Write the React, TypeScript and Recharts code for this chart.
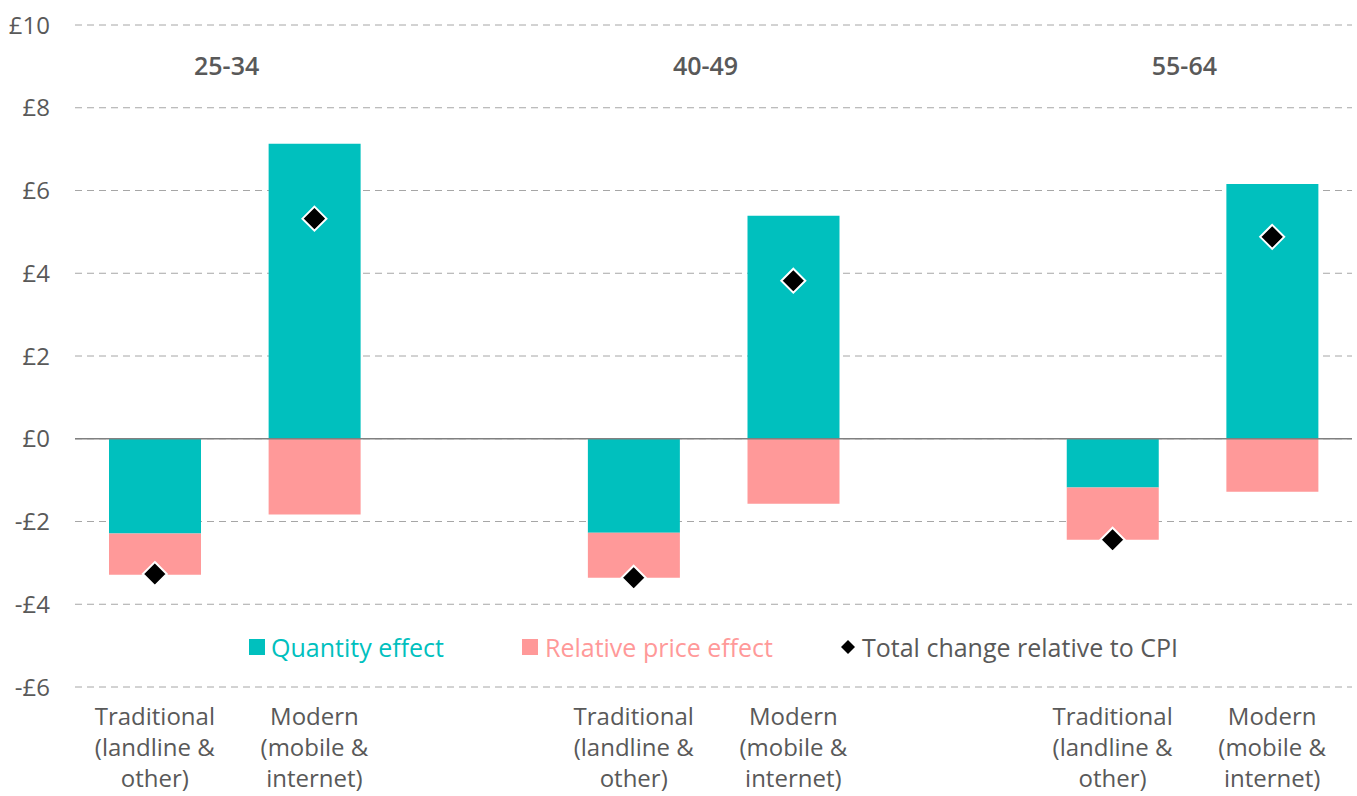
import React from 'react';
import {
  ComposedChart,
  Bar,
  Scatter,
  XAxis,
  YAxis,
  CartesianGrid,
  ReferenceLine,
  ReferenceArea,
  Legend,
} from 'recharts';

// categories: t = traditional, m = modern, g = empty gap slot between age groups
const categories = ['t1', 'm1', 'g1', 't2', 'm2', 'g2', 't3', 'm3'];
const quantityEffect = [-2.29, 7.13, null, -2.27, 5.39, null, -1.18, 6.16];
const priceEffect = [-1.0, -1.83, null, -1.09, -1.57, null, -1.26, -1.28];
const totalChange = [-3.27, 5.32, null, -3.36, 3.82, null, -2.44, 4.88];

const ageGroups = ['25-34', '40-49', '55-64'];
const groupStart = ['t1', 't2', 't3'];
const groupEnd = ['m1', 'm2', 'm3'];

const tickLabels: Record<string, string[]> = {
  t: ['Traditional', '(landline &', 'other)'],
  m: ['Modern', '(mobile &', 'internet)'],
};
const yTicks = [-6, -4, -2, 0, 2, 4, 6, 8, 10];

const TEAL = '#00C0BE';
const PINK = '#FF9999';
const TEXT = '#595959';
const FONT = '"Open Sans", "Noto Sans", sans-serif';

const data = categories.map((c, i) => ({
  cat: c,
  quantity: quantityEffect[i],
  price: priceEffect[i],
  total: totalChange[i],
}));

const fmtPound = (v: number) => (v < 0 ? `-£${-v}` : `£${v}`);

function CategoryTick(props: any) {
  const { x, y, payload } = props;
  const lines = tickLabels[String(payload.value)[0]];
  if (!lines) return null;
  return (
    <text x={x} y={y} textAnchor="middle" fill={TEXT} fontSize={24} fontFamily={FONT}>
      {lines.map((l, i) => (
        <tspan key={i} x={x} dy={i === 0 ? 38 : 31}>
          {l}
        </tspan>
      ))}
    </text>
  );
}

function Diamond(props: any) {
  const { cx, cy, payload } = props;
  if (payload == null || payload.total == null || !Number.isFinite(cy)) return null;
  const r = 12;
  return (
    <polygon
      points={`${cx},${cy - r} ${cx + r},${cy} ${cx},${cy + r} ${cx - r},${cy}`}
      fill="#000"
      stroke="#fff"
      strokeWidth={2}
    />
  );
}

function LegendBox() {
  const item = { display: 'flex', alignItems: 'center' } as const;
  return (
    <div
      style={{
        display: 'flex',
        justifyContent: 'center',
        alignItems: 'center',
        fontFamily: FONT,
        fontSize: 25,
      }}
    >
      <div style={item}>
        <span style={{ width: 16, height: 16, background: TEAL, marginRight: 6 }} />
        <span style={{ color: TEAL }}>Quantity effect</span>
      </div>
      <div style={{ ...item, marginLeft: 78 }}>
        <span style={{ width: 16, height: 16, background: PINK, marginRight: 7 }} />
        <span style={{ color: PINK }}>Relative price effect</span>
      </div>
      <div style={{ ...item, marginLeft: 68 }}>
        <svg width={14} height={14} style={{ marginRight: 7 }}>
          <polygon points="7,0 14,7 7,14 0,7" fill="#000" />
        </svg>
        <span style={{ color: TEXT }}>Total change relative to CPI</span>
      </div>
    </div>
  );
}

export default function App() {
  return (
    <div style={{ position: 'absolute', left: 0, top: 0, background: '#fff' }}>
      <ComposedChart
        width={1357}
        height={796}
        data={data}
        stackOffset="sign"
        barCategoryGap={0}
        margin={{ top: 25, right: 5, bottom: 0, left: 0 }}
      >
        <CartesianGrid vertical={false} stroke="#a6a6a6" strokeDasharray="7 5" />
        <XAxis
          dataKey="cat"
          axisLine={false}
          tickLine={false}
          tickSize={0}
          tickMargin={0}
          height={109}
          interval={0}
          tick={<CategoryTick />}
        />
        <YAxis
          domain={[-6, 10]}
          ticks={yTicks}
          width={75}
          axisLine={false}
          tickLine={false}
          tickSize={0}
          tickMargin={25}
          tickFormatter={fmtPound}
          tick={{ fill: TEXT, fontSize: 24, fontFamily: FONT }}
          allowDataOverflow
        />
        {ageGroups.map((g, i) => (
          <ReferenceArea
            key={g}
            x1={groupStart[i]}
            x2={groupEnd[i]}
            y1={8.5}
            y2={9.5}
            fill="none"
            fillOpacity={0}
            stroke="none"
            label={{
              value: g,
              position: 'center',
              fill: TEXT,
              fontSize: 25,
              fontWeight: 600,
              fontFamily: FONT,
              dx: -8,
            }}
          />
        ))}
        <Bar dataKey="quantity" stackId="a" fill={TEAL} barSize={92} isAnimationActive={false} />
        <Bar dataKey="price" stackId="a" fill={PINK} barSize={92} isAnimationActive={false} />
        <ReferenceLine y={0} stroke="#808080" strokeWidth={1.7} />
        <Scatter dataKey="total" shape={<Diamond />} isAnimationActive={false} />
        <Legend
          layout="horizontal"
          align="center"
          verticalAlign="middle"
          content={<LegendBox />}
          wrapperStyle={{ top: 630, left: 75, width: 1277 }}
        />
      </ComposedChart>
    </div>
  );
}
